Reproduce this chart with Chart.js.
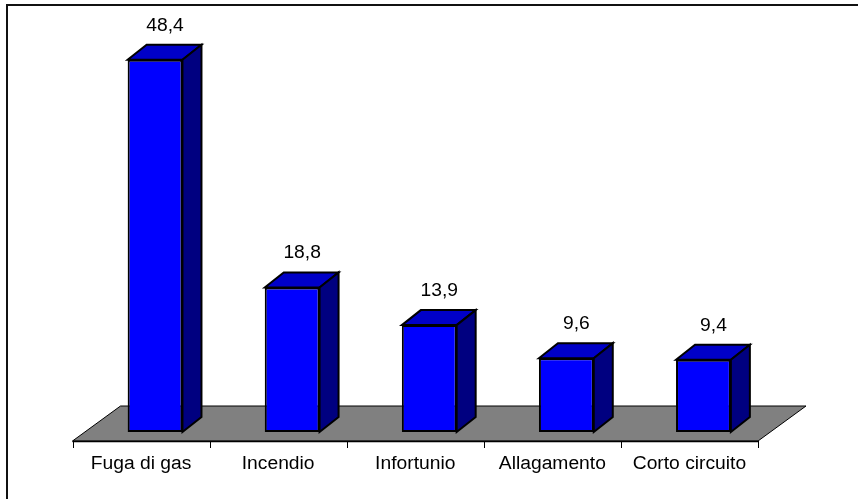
<!DOCTYPE html>
<html>
<head>
<meta charset="utf-8">
<script src="https://cdn.jsdelivr.net/npm/chart.js@4.4.0/dist/chart.umd.min.js"></script>
<style>
  html, body { margin: 0; padding: 0; background: #fff; }
  #wrap { position: relative; width: 858px; height: 499px; }
</style>
</head>
<body>
<div id="wrap"><canvas id="c"></canvas></div>
<script>
const categories = ["Fuga di gas", "Incendio", "Infortunio", "Allagamento", "Corto circuito"];
const values = [48.4, 18.8, 13.9, 9.6, 9.4];
const yMin = 0;
const yMax = 50;

const DEPTH_X = 19, DEPTH_Y = -15;        // bar depth
const FLOOR_FRONT = { dx: -14, dy: 9 };   // floor front edge offset from bar plane
const FLOOR_BACK  = { dx: 34, dy: -26 };  // floor back edge offset from bar plane
const FONT = '18px "Liberation Sans", Arial, sans-serif';
const TEXT_SX = 1.07;

function stretchedText(ctx, txt, x, y) {
  ctx.save();
  ctx.translate(x, y);
  ctx.scale(TEXT_SX, 1);
  ctx.fillText(txt, 0, 0);
  ctx.restore();
}

const bar3d = {
  id: 'bar3d',
  beforeDatasetsDraw(chart) {
    const ctx = chart.ctx;
    const a = chart.chartArea;
    const B = a.bottom;
    ctx.save();
    // floor
    ctx.beginPath();
    ctx.moveTo(a.left + FLOOR_FRONT.dx, B + FLOOR_FRONT.dy);
    ctx.lineTo(a.right + FLOOR_FRONT.dx, B + FLOOR_FRONT.dy);
    ctx.lineTo(a.right + FLOOR_BACK.dx, B + FLOOR_BACK.dy);
    ctx.lineTo(a.left + FLOOR_BACK.dx, B + FLOOR_BACK.dy);
    ctx.closePath();
    ctx.fillStyle = '#808080';
    ctx.fill();
    ctx.lineWidth = 1;
    ctx.strokeStyle = '#000';
    ctx.stroke();
    // front axis line + ticks
    const n = chart.data.labels.length;
    const step = (a.right - a.left) / n;
    ctx.beginPath();
    ctx.lineWidth = 1.5;
    ctx.moveTo(a.left + FLOOR_FRONT.dx, B + FLOOR_FRONT.dy + 0.5);
    ctx.lineTo(a.right + FLOOR_FRONT.dx, B + FLOOR_FRONT.dy + 0.5);
    ctx.stroke();
    ctx.beginPath();
    ctx.lineWidth = 1;
    for (let i = 0; i <= n; i++) {
      const x = Math.round(a.left + FLOOR_FRONT.dx + i * step) + 0.5;
      ctx.moveTo(x, B + FLOOR_FRONT.dy);
      ctx.lineTo(x, B + FLOOR_FRONT.dy + 7);
    }
    ctx.stroke();
    // category labels
    ctx.fillStyle = '#000';
    ctx.font = FONT;
    ctx.textAlign = 'center';
    ctx.textBaseline = 'alphabetic';
    chart.data.labels.forEach((lab, i) => {
      stretchedText(ctx, lab, a.left + FLOOR_FRONT.dx + (i + 0.5) * step, B + 37);
    });
    ctx.restore();
  },
  afterDatasetsDraw(chart) {
    const ctx = chart.ctx;
    const meta = chart.getDatasetMeta(0);
    const data = chart.data.datasets[0].data;
    ctx.save();
    ctx.lineWidth = 2;
    ctx.lineJoin = 'miter';
    ctx.strokeStyle = '#000';
    meta.data.forEach((el, i) => {
      const p = el.getProps(['x', 'y', 'base', 'width'], true);
      const l = p.x - p.width / 2, r = p.x + p.width / 2;
      const t = p.y, b = p.base;
      // top face
      ctx.beginPath();
      ctx.moveTo(l, t);
      ctx.lineTo(l + DEPTH_X, t + DEPTH_Y);
      ctx.lineTo(r + DEPTH_X, t + DEPTH_Y);
      ctx.lineTo(r, t);
      ctx.closePath();
      ctx.fillStyle = '#0000C8';
      ctx.fill();
      ctx.stroke();
      // side face
      ctx.beginPath();
      ctx.moveTo(r, t);
      ctx.lineTo(r + DEPTH_X, t + DEPTH_Y);
      ctx.lineTo(r + DEPTH_X, b + DEPTH_Y);
      ctx.lineTo(r, b);
      ctx.closePath();
      ctx.fillStyle = '#000080';
      ctx.fill();
      ctx.stroke();
      // value label
      ctx.fillStyle = '#000';
      ctx.font = FONT;
      ctx.textAlign = 'center';
      ctx.textBaseline = 'alphabetic';
      const txt = data[i].toFixed(1).replace('.', ',');
      stretchedText(ctx, txt, p.x + 10, t + DEPTH_Y - 14);
    });
    ctx.restore();
  },
  afterDraw(chart) {
    const ctx = chart.ctx;
    ctx.save();
    ctx.strokeStyle = '#111';
    ctx.lineWidth = 2;
    ctx.beginPath();
    ctx.moveTo(7, chart.height);
    ctx.lineTo(7, 5);
    ctx.lineTo(chart.width, 5);
    ctx.stroke();
    ctx.restore();
  }
};

new Chart(document.getElementById('c'), {
  type: 'bar',
  data: {
    labels: categories,
    datasets: [{
      data: values,
      backgroundColor: '#0000FF',
      borderColor: '#000',
      borderWidth: 2,
      borderSkipped: false,
      categoryPercentage: 1.0,
      barPercentage: 0.40
    }]
  },
  options: {
    responsive: true,
    maintainAspectRatio: false,
    animation: false,
    devicePixelRatio: 1,
    layout: { padding: { left: 86.5, right: 86, top: 47.5, bottom: 67 } },
    plugins: { legend: { display: false }, tooltip: { enabled: false } },
    scales: {
      x: { display: false },
      y: { display: false, min: yMin, max: yMax }
    }
  },
  plugins: [bar3d]
});
</script>
</body>
</html>
